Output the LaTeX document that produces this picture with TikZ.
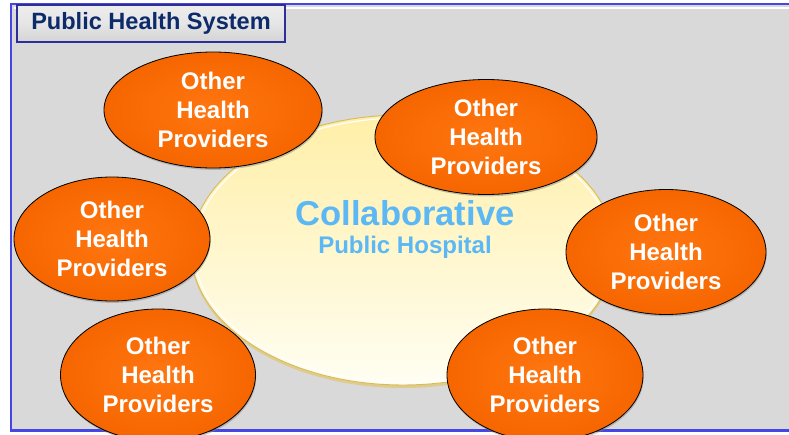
\documentclass[tikz,border=0pt]{standalone}
\usepackage{fontspec}
\setmainfont{Liberation Sans}
\usetikzlibrary{shapes.geometric,shadows}
\definecolor{frameblue}{HTML}{4646E4}
\definecolor{titlenavy}{HTML}{0D2A6A}
\definecolor{titleedge}{HTML}{2E2E98}
\definecolor{panelgray}{HTML}{D9D9D9}
\definecolor{provlight}{HTML}{FF7610}
\definecolor{provdark}{HTML}{F66600}
\definecolor{hosptop}{HTML}{FFEFA8}
\definecolor{hospbottom}{HTML}{FFFEF2}
\definecolor{hosprim}{HTML}{D9BC5A}
\definecolor{hosptext}{HTML}{5BB8F5}
\newcommand\provfont{\fontsize{20.5}{24.75}\selectfont\bfseries}
\newcommand\collabfont{\fontsize{29.5}{32}\selectfont\bfseries}
\newcommand\subhospfont{\fontsize{20.5}{24}\selectfont\bfseries}
\newcommand\systitlefont{\fontsize{20.1}{24}\selectfont\bfseries}
\tikzset{
  provider/.style 2 args={ellipse, draw=black, line width=0.7pt,
    inner color=provlight, outer color=provdark, text=white,
    font=\provfont, align=center, inner sep=0pt,
    minimum width=#1*0.3mm, minimum height=#2*0.3mm,
    drop shadow={shadow xshift=0.6pt, shadow yshift=-1.6pt, opacity=0.45}},
  titlebox/.style={draw=titleedge, line width=1.6pt, top color=gray!14,
    bottom color=gray!34, middle color=gray!20, text=titlenavy,
    font=\systitlefont, inner sep=0pt,
    minimum width=268*0.3mm, minimum height=37*0.3mm},
  hosptext/.style={text=hosptext, inner sep=0pt}
}
\begin{document}
\begin{tikzpicture}[x=0.3mm,y=-0.3mm]
  \useasboundingbox (0,0) rectangle (789,435);
  \clip (0,0) rectangle (789,435);
  % system frame
  \fill[white] (0,0) rectangle (789,435);
  \draw[frameblue, line width=2.4pt, fill=panelgray] (11,4) rectangle (805,430.5);
  \draw[white, line width=1pt] (13.5,8) -- (805,8);
  \node[titlebox] (systitle) at (151,23.5) {Public Health System};
  % hospital plate
  \fill[hosprim!80, opacity=0.8] (403,253) ellipse (212 and 135);
  \shade[top color=hosptop, bottom color=hospbottom, draw=hosprim, line width=0.8pt]
    (403,250) ellipse (212 and 135);
  \draw[white, line width=1pt] (403,250) ellipse (209 and 132);
  \node[hosptext, font=\collabfont] (collab) at (405,213) {Collaborative};
  \node[hosptext, font=\subhospfont] (pubhosp) at (405,247) {Public Hospital};
  % providers around it
  \node[provider={218}{116}] (prov1) at (213,110) {Other\\Health\\Providers};
  \node[provider={222}{115}] (prov2) at (486,137) {Other\\Health\\Providers};
  \node[provider={196}{124}] (prov3) at (112,239) {Other\\Health\\Providers};
  \node[provider={200}{125}] (prov4) at (666,252) {Other\\Health\\Providers};
  \node[provider={195}{132}] (prov5) at (158,375) {Other\\Health\\Providers};
  \node[provider={196}{132}] (prov6) at (545,375) {Other\\Health\\Providers};
\end{tikzpicture}
\end{document}
